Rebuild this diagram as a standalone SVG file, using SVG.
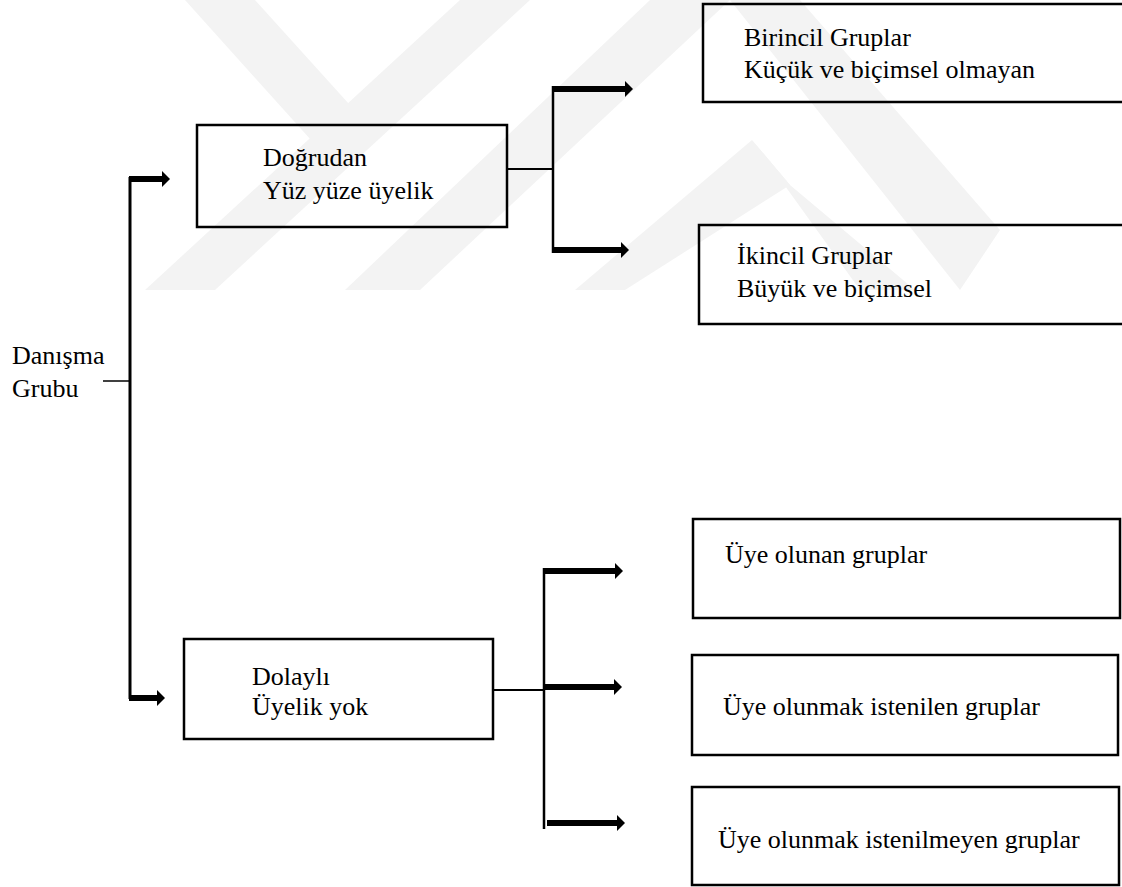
<svg xmlns="http://www.w3.org/2000/svg" width="1122" height="887" viewBox="0 0 1122 887">
<style>
.wm{fill:#f3f3f3;stroke:none}
.box{fill:none;stroke:#000;stroke-width:2.5}
.ln{fill:none;stroke:#000;stroke-width:2}
.vl{fill:none;stroke:#000;stroke-width:3}
.arr{fill:none;stroke:#000;stroke-width:6}
text{font-family:'Liberation Serif','Times New Roman',Tinos,'DejaVu Serif',serif;font-size:26px;fill:#000}
</style>
<defs>
<marker id="ah" markerUnits="userSpaceOnUse" markerWidth="9" markerHeight="16" refX="0" refY="8" orient="auto">
<path d="M0,0 L8,8 L0,16 Z" fill="#000"/>
</marker>
</defs>
<rect width="1122" height="887" fill="#fff"/>
<g id="watermark">
<polygon class="wm" points="185,0 255,0 349,104 311,140"/>
<polygon class="wm" points="460,0 530,0 215,290 145,290"/>
<polygon class="wm" points="650,0 730,0 420,290 345,290"/>
<polygon class="wm" points="730,0 800,0 1000,230 960,290"/>
<polygon class="wm" points="752,140 790,185 625,290 575,290"/>
<polygon class="wm" points="752,140 790,185 915,290 860,290"/>
</g>
<g id="connectors">
<line class="ln" x1="103" y1="381" x2="130" y2="381" style="stroke-width:1.5"/>
<path class="vl" d="M130,699 V177"/>
<line class="arr" x1="129" y1="179" x2="162" y2="179" marker-end="url(#ah)"/>
<line class="arr" x1="129" y1="698" x2="157" y2="698" marker-end="url(#ah)"/>
<line class="ln" x1="507" y1="169" x2="553" y2="169"/>
<path class="vl" d="M553,86 V253" style="stroke-width:2.5"/>
<line class="arr" x1="552" y1="89" x2="625" y2="89" marker-end="url(#ah)"/>
<line class="arr" x1="552" y1="250" x2="621" y2="250" marker-end="url(#ah)"/>
<line class="ln" x1="493" y1="690" x2="544" y2="690"/>
<path class="vl" d="M544,568 V829" style="stroke-width:2.5"/>
<line class="arr" x1="543" y1="571" x2="615" y2="571" marker-end="url(#ah)"/>
<line class="arr" x1="544" y1="687" x2="614" y2="687" marker-end="url(#ah)"/>
<line class="arr" x1="547" y1="823" x2="617" y2="823" marker-end="url(#ah)"/>
</g>
<g id="danisma">
<text x="12" y="364">Danışma</text>
<text x="12" y="397">Grubu</text>
</g>
<g id="dogrudan">
<rect class="box" x="197" y="125" width="310" height="102"/>
<text x="263" y="166">Doğrudan</text>
<text x="263" y="199">Yüz yüze üyelik</text>
</g>
<g id="birincil">
<rect class="box" x="703" y="4" width="430" height="98"/>
<text x="744" y="46">Birincil Gruplar</text>
<text x="744" y="78">Küçük ve biçimsel olmayan</text>
</g>
<g id="ikincil">
<rect class="box" x="699" y="225" width="430" height="99"/>
<text x="737" y="264">İkincil Gruplar</text>
<text x="737" y="297">Büyük ve biçimsel</text>
</g>
<g id="dolayli">
<rect class="box" x="184" y="639" width="309" height="100"/>
<text x="252" y="685">Dolaylı</text>
<text x="252" y="715">Üyelik yok</text>
</g>
<g id="uye-olunan">
<rect class="box" x="693" y="519" width="427" height="99"/>
<text x="725" y="563">Üye olunan gruplar</text>
</g>
<g id="uye-istenilen">
<rect class="box" x="692" y="655" width="426" height="100"/>
<text x="723" y="715">Üye olunmak istenilen gruplar</text>
</g>
<g id="uye-istenilmeyen">
<rect class="box" x="692" y="787" width="427" height="98"/>
<text x="718" y="848">Üye olunmak istenilmeyen gruplar</text>
</g>
</svg>
